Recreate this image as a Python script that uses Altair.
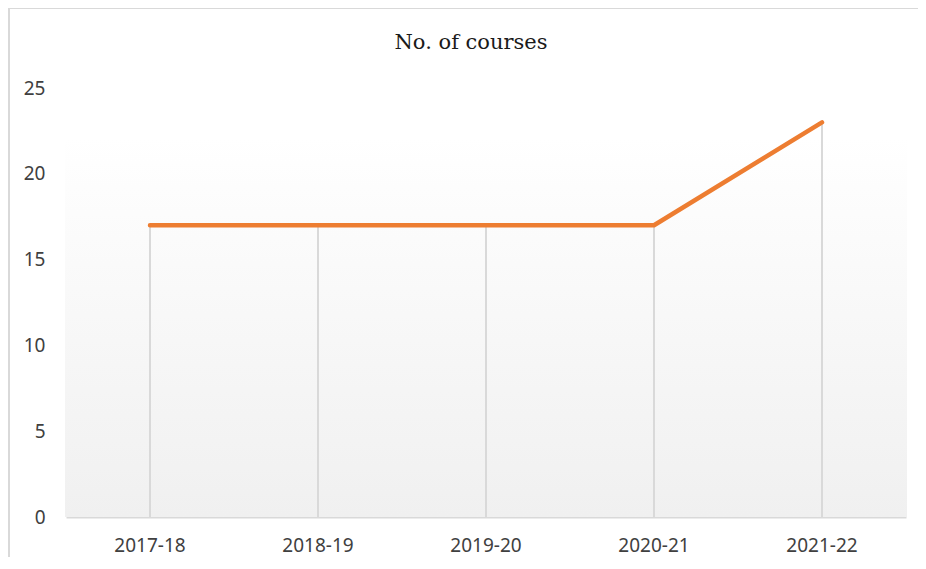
import altair as alt
import pandas as pd

years = ["2017-18", "2018-19", "2019-20", "2020-21", "2021-22"]
courses = [17, 17, 17, 17, 23]
y_ticks = [0, 5, 10, 15, 20, 25]
title_text = "No. of courses"

df = pd.DataFrame({"year": years, "courses": courses})
one = pd.DataFrame({"k": [0]})

W, H = 840, 429

x_enc = alt.X("year:N", sort=years, title=None,
              scale=alt.Scale(paddingInner=0, paddingOuter=0),
              axis=alt.Axis(labelAngle=0, ticks=False, labelPadding=19,
                            domainColor="#d9d9d9", domainWidth=2,
                            labelFont="Noto Sans", labelFontSize=19,
                            labelColor="#404040", grid=False))
y_enc = alt.Y("courses:Q", title=None,
              scale=alt.Scale(domain=[0, 25], nice=False),
              axis=alt.Axis(values=y_ticks, ticks=False, domain=False, grid=False,
                            labelPadding=21, labelFont="Noto Sans", labelFontSize=19,
                            labelColor="#404040"))

grad = alt.Chart(one).mark_rect(
    color=alt.LinearGradient(gradient="linear", x1=0, y1=0, x2=0, y2=1,
                             stops=[alt.GradientStop(color="#ffffff", offset=0),
                                    alt.GradientStop(color="#f0f0f0", offset=1)])
).encode(x=alt.value(-1), x2=alt.value(W + 1), y=alt.value(49), y2=alt.value(H))

border_left = alt.Chart(one).mark_rule(color="#d9d9d9", strokeWidth=2).encode(
    x=alt.value(-57), y=alt.value(-81), y2=alt.value(H + 60))
border_top = alt.Chart(one).mark_rule(color="#d9d9d9", strokeWidth=2).encode(
    x=alt.value(-58), x2=alt.value(W + 20), y=alt.value(-80))

title = alt.Chart(one).mark_text(
    text=title_text, font="DejaVu Serif", fontSize=21, color="#1a1a1a",
    align="center", baseline="middle"
).encode(x=alt.value(405), y=alt.value(-45))

rules = alt.Chart(df).mark_rule(color="#d9d9d9", strokeWidth=2).encode(
    x=x_enc, y=y_enc, y2=alt.datum(0))

line = alt.Chart(df).mark_line(color="#ED7D31", strokeWidth=4.5, strokeCap="round",
                               strokeJoin="round").encode(x=x_enc, y=y_enc)

chart = alt.layer(grad, border_left, border_top, title, rules, line).properties(
    width=W, height=H,
    background="white",
    autosize=alt.AutoSizeParams(type="none"),
    padding={"left": 58, "top": 80, "right": 12, "bottom": 40},
).configure_view(strokeWidth=0, stroke="transparent")

chart.save("out.html", embed_options={"renderer": "svg", "actions": False})
